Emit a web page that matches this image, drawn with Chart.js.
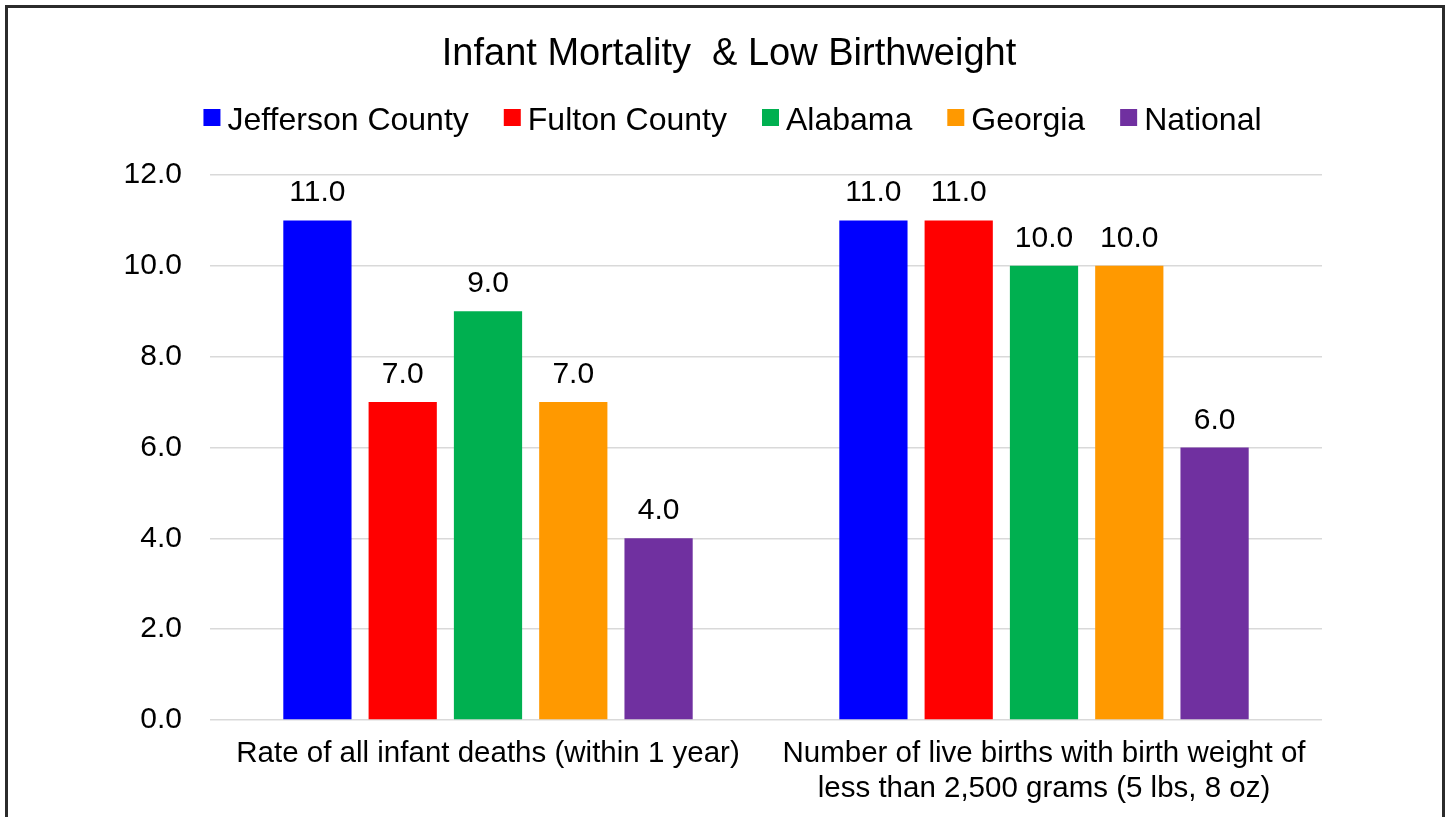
<!DOCTYPE html>
<html>
<head>
<meta charset="utf-8">
<title>Infant Mortality & Low Birthweight</title>
<script src="https://cdn.jsdelivr.net/npm/chart.js@4.4.1/dist/chart.umd.min.js"></script>
<style>
  html, body { margin: 0; padding: 0; background: #fff; overflow: hidden; }
  #wrap { position: relative; width: 1448px; height: 817px; }
  #frame {
    position: absolute; left: 5px; top: 5px; width: 1434px; height: 840px;
    border: 3px solid #2b2b2b; pointer-events: none;
  }
</style>
</head>
<body>
<div id="wrap">
  <canvas id="chart" width="1448" height="817"></canvas>
  <div id="frame"></div>
</div>
<script>
const chartTitle = 'Infant Mortality  & Low Birthweight';
const categories = [
  'Rate of all infant deaths (within 1 year)',
  ['Number of live births with birth weight of', 'less than 2,500 grams (5 lbs, 8 oz)']
];
const seriesNames = ['Jefferson County', 'Fulton County', 'Alabama', 'Georgia', 'National'];
const jeffersonValues = [11.0, 11.0];
const fultonValues = [7.0, 11.0];
const alabamaValues = [9.0, 10.0];
const georgiaValues = [7.0, 10.0];
const nationalValues = [4.0, 6.0];
const yMin = 0;
const yMax = 12;
const yStep = 2;

const palette = ['#0000ff', '#ff0000', '#00b050', '#ff9900', '#7030a0'];
const FONT = '"Liberation Sans", Arial, sans-serif';

// Generate bar chart
(function () {
  const ctx = document.getElementById('chart');
  const allValues = [jeffersonValues, fultonValues, alabamaValues, georgiaValues, nationalValues];

  const datasets = seriesNames.map((name, i) => ({
    label: name,
    data: allValues[i],
    backgroundColor: palette[i],
    borderWidth: 0,
    categoryPercentage: 0.767,
    barPercentage: 0.8
  }));

  // title + legend, drawn by hand so spacing follows the original
  const headerPlugin = {
    id: 'header',
    afterDraw(chart) {
      const c = chart.ctx;
      c.save();
      c.fillStyle = '#000';
      c.textBaseline = 'alphabetic';
      c.textAlign = 'center';
      c.font = '38px ' + FONT;
      c.fillText(chartTitle, 729, 65);

      c.font = '32px ' + FONT;
      c.textAlign = 'left';
      const box = 17, gap = 7, itemGap = 35;
      const widths = chart.data.datasets.map(ds => c.measureText(ds.label).width);
      let total = 0;
      widths.forEach(w => { total += box + gap + w; });
      total += itemGap * (widths.length - 1);
      let x = 732.5 - total / 2;
      chart.data.datasets.forEach((ds, i) => {
        c.fillStyle = ds.backgroundColor;
        c.fillRect(x, 109, box, box);
        c.fillStyle = '#000';
        c.fillText(ds.label, x + box + gap, 130);
        x += box + gap + widths[i] + itemGap;
      });
      c.restore();
    }
  }

  const valueLabels = {
    id: 'valueLabels',
    afterDatasetsDraw(chart) {
      const c = chart.ctx;
      c.save();
      c.font = '30px ' + FONT;
      c.fillStyle = '#000';
      c.textAlign = 'center';
      c.textBaseline = 'alphabetic';
      chart.data.datasets.forEach((ds, i) => {
        chart.getDatasetMeta(i).data.forEach((bar, j) => {
          c.fillText(ds.data[j].toFixed(1), bar.x, bar.y - 19);
        });
      });
      c.restore();
    }
  }

  new Chart(ctx, {
    type: 'bar',
    data: { labels: categories, datasets: datasets },
    plugins: [headerPlugin, valueLabels],
    options: {
      responsive: false,
      animation: false,
      layout: { padding: { top: 175, right: 126, bottom: 0, left: 0 } },
      plugins: {
        legend: { display: false },
        title: { display: false },
        tooltip: { enabled: false }
      },
      scales: {
        x: {
          afterFit: (s) => { s.height = 97; },
          grid: { display: false, drawTicks: false },
          border: { display: false },
          ticks: {
            color: '#000',
            padding: 16,
            maxRotation: 0,
            autoSkip: false,
            font: { family: FONT, size: 29.5, lineHeight: 1.19 }
          }
        },
        y: {
          min: yMin,
          max: yMax,
          afterFit: (s) => { s.width = 210; },
          grid: { color: '#d9d9d9', lineWidth: 1.5, drawTicks: false },
          border: { display: false },
          ticks: {
            stepSize: yStep,
            color: '#000',
            padding: 28,
            font: { family: FONT, size: 30 },
            callback: (v) => Number(v).toFixed(1)
          }
        }
      }
    }
  })
})()
</script>
</body>
</html>
